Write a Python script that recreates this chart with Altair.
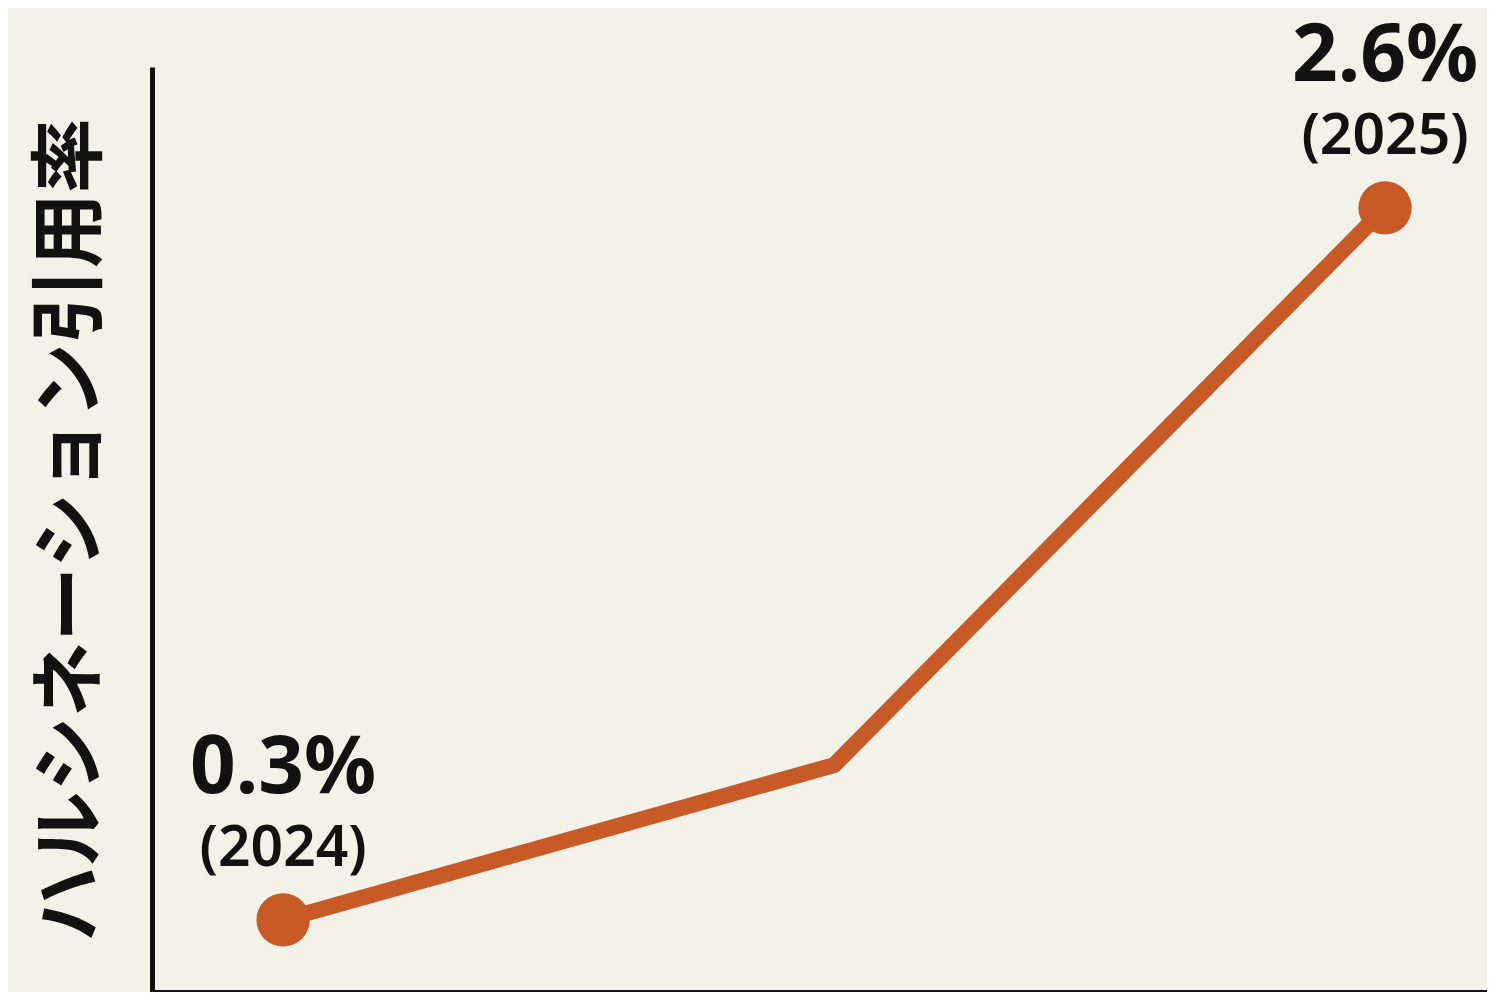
import altair as alt
import pandas as pd

# Data
x_pos = [0, 1, 2]
rates = [0.3, 0.8, 2.6]
value_labels = ["0.3%", "", "2.6%"]
year_labels = ["(2024)", "", "(2025)"]

df = pd.DataFrame({"x": x_pos, "rate": rates, "val": value_labels, "year": year_labels})

ORANGE = "#c85a27"
INK = "#111111"

x_enc = alt.X(
    "x:Q",
    scale=alt.Scale(domain=[-0.238, 2.185], nice=False, zero=False),
    axis=alt.Axis(labels=False, ticks=False, grid=False, title=None,
                  domainColor=INK, domainWidth=5),
)
y_enc = alt.Y(
    "rate:Q",
    scale=alt.Scale(domain=[0.067, 3.055], nice=False, zero=False),
    axis=alt.Axis(labels=False, ticks=False, grid=False,
                  title="ハルシネーション引用率",
                  titleFont="Noto Sans CJK JP", titleFontSize=75,
                  titleFontWeight="bold", titleColor=INK, titlePadding=42,
                  domainColor=INK, domainWidth=5),
)

base = alt.Chart(df).encode(x=x_enc, y=y_enc)

line = base.mark_line(color=ORANGE, strokeWidth=16, strokeCap="round", strokeJoin="round")
points = base.transform_filter("datum.val != ''").mark_circle(
    color=ORANGE, size=2850, opacity=1
)
val_text = base.transform_filter("datum.val != ''").mark_text(
    font="Noto Sans", fontSize=80, fontWeight="bold", color=INK,
    align="center", baseline="alphabetic", dy=-127,
).encode(text="val:N")
year_text = base.transform_filter("datum.val != ''").mark_text(
    font="Noto Sans", fontSize=57, fontWeight=600, color=INK,
    align="center", baseline="alphabetic", dy=-54,
).encode(text="year:N")

chart = (
    alt.layer(line, points, val_text, year_text)
    .properties(
        width=1335,
        height=925,
        background="#f3f2e9",
        autosize=alt.AutoSizeParams(type="none"),
        padding={"left": 144, "top": 59, "right": 0, "bottom": 0},
    )
    .configure_view(stroke=None)
)

chart.save("out.html", embed_options={"renderer": "svg", "actions": False})
